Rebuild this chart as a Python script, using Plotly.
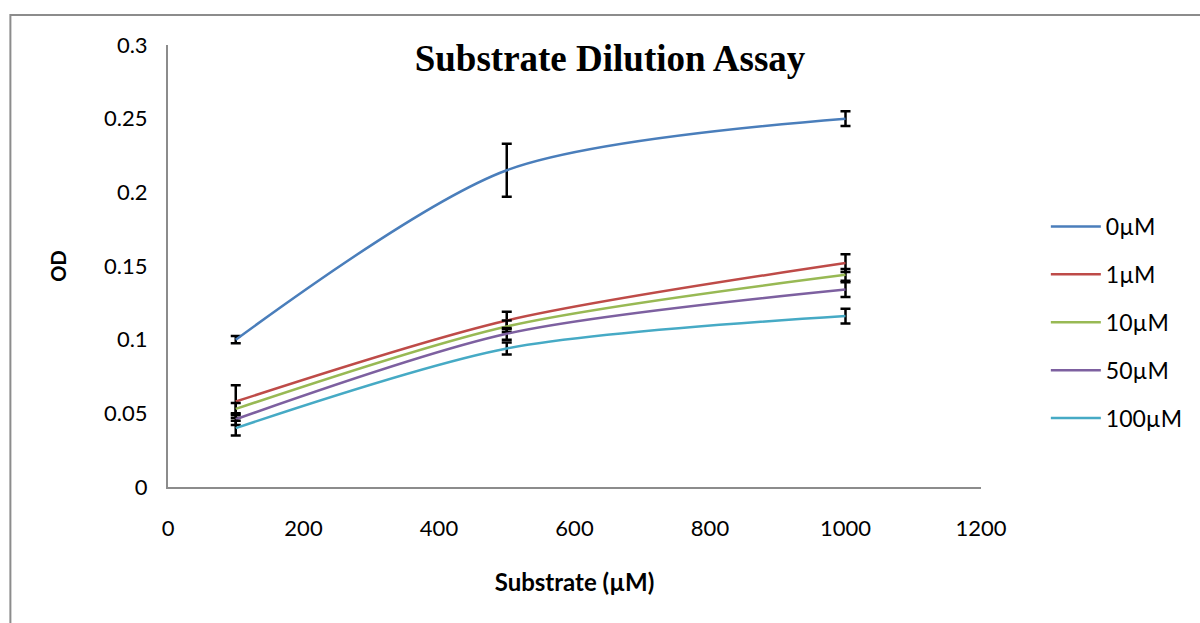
import plotly.graph_objects as go

# Substrate concentrations (µM)
substrate = [100, 500, 1000]

# Inhibitor concentrations and their series
series_names = ["0µM", "1µM", "10µM", "50µM", "100µM"]
od_0 = [0.100, 0.215, 0.250]
od_1 = [0.058, 0.113, 0.152]
od_10 = [0.053, 0.109, 0.144]
od_50 = [0.046, 0.104, 0.134]
od_100 = [0.040, 0.094, 0.116]

err_0 = [0.0025, 0.018, 0.005]
err_1 = [0.011, 0.006, 0.006]
err_10 = [0.004, 0.004, 0.004]
err_50 = [0.004, 0.004, 0.005]
err_100 = [0.005, 0.004, 0.005]

colors = ["#4A7EBB", "#BE4B48", "#98B954", "#7D60A0", "#46AAC5"]

x_ticks = [0, 200, 400, 600, 800, 1000, 1200]
y_ticks = [0, 0.05, 0.1, 0.15, 0.2, 0.25, 0.3]
y_tick_text = ["0", "0.05", "0.1", "0.15", "0.2", "0.25", "0.3"]

values = [od_0, od_1, od_10, od_50, od_100]
errors = [err_0, err_1, err_10, err_50, err_100]

fig = go.Figure()
for name, ys, es, c in zip(series_names, values, errors, colors):
    fig.add_trace(go.Scatter(
        x=substrate, y=ys, name=name, mode="lines",
        line=dict(color=c, width=2.5, shape="spline", smoothing=0.8),
        legendgroup=name,
        error_y=dict(type="data", array=es, visible=True,
                     color="black", thickness=2.5, width=5),
    ))

L, R, T, B = 168, 217, 45, 136
W, H = 1200, 623
pw, ph = W - L - R, H - T - B

def px_x(p):
    return (p - L) / pw

def px_y(p):
    return (H - B - p) / ph

fig.update_layout(
    width=W, height=H,
    margin=dict(l=L, r=R, t=T, b=B),
    paper_bgcolor="white", plot_bgcolor="white",
    font=dict(family="Lato, Open Sans, sans-serif", size=22, color="black"),
    title=dict(text="<b>Substrate Dilution Assay</b>",
               font=dict(family="Liberation Serif, Times New Roman, serif", size=37, color="black"),
               x=610 / W, xanchor="center", y=1 - 58 / H, yanchor="middle",
               xref="container", yref="container"),
    xaxis=dict(range=[0, 1200], tickvals=x_ticks, showgrid=False, zeroline=False,
               showline=True, linecolor="#8C8C8C", linewidth=2, ticks="",
               ticklabelstandoff=21,
               title=dict(text="<b>Substrate (µM)</b>", font=dict(size=24), standoff=34)),
    yaxis=dict(range=[0, 0.3], tickvals=y_ticks, ticktext=y_tick_text, showgrid=False,
               zeroline=False, showline=True, linecolor="#8C8C8C", linewidth=2, ticks="",
               ticklabelstandoff=14,
               title=dict(text="<b>OD</b>", font=dict(size=20), standoff=32)),
    legend=dict(x=px_x(1048), y=px_y(205), xanchor="left", yanchor="top",
                tracegroupgap=15, font=dict(size=23), itemwidth=50,
                bgcolor="rgba(0,0,0,0)"),
    showlegend=True,
)

# Outer chart frame
fig.add_shape(type="rect", xref="paper", yref="paper",
              x0=px_x(10), x1=px_x(1210), y0=px_y(640), y1=px_y(15),
              line=dict(color="#8C8C8C", width=2), layer="below")

fig.write_html("out.html")
